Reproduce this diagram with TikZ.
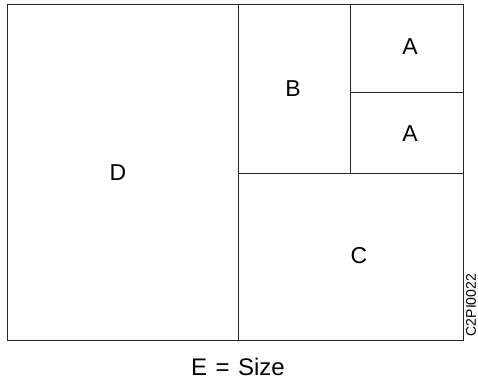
\documentclass[tikz,border=0pt]{standalone}
\usepackage{fontspec}
\setmainfont{Liberation Sans}
\begin{document}
\begin{tikzpicture}[x=1pt,y=-1pt,
  part/.style={draw=black!85,line width=1pt},
  tag/.style={inner sep=0pt,font=\fontsize{23}{23}\selectfont},
  code/.style={inner sep=0pt,font=\fontsize{14}{14}\selectfont,rotate=90}]
\useasboundingbox (0,0) rectangle (478,379);
% outer frame and partitions
\draw[part] (7.5,5) rectangle (463.5,340.5);
\draw[part] (238.5,5) -- (238.5,340.5);
\draw[part] (238.5,173.5) -- (463.5,173.5);
\draw[part] (350.5,5) -- (350.5,173.5);
\draw[part] (350.5,93) -- (463.5,93);
% region labels
\node[tag] (d) at (118,172.5) {D};
\node[tag] (b) at (293,89) {B};
\node[tag] (a1) at (410,47) {A};
\node[tag] (a2) at (410,134) {A};
\node[tag] (c) at (359,256) {C};
\node[inner sep=0pt,font=\fontsize{24}{24}\selectfont] (e) at (238,366.5) {E\kern0.35em=\kern0.35em Size};
\node[code] (id) at (471,305) {C2PI0022};
\end{tikzpicture}
\end{document}
